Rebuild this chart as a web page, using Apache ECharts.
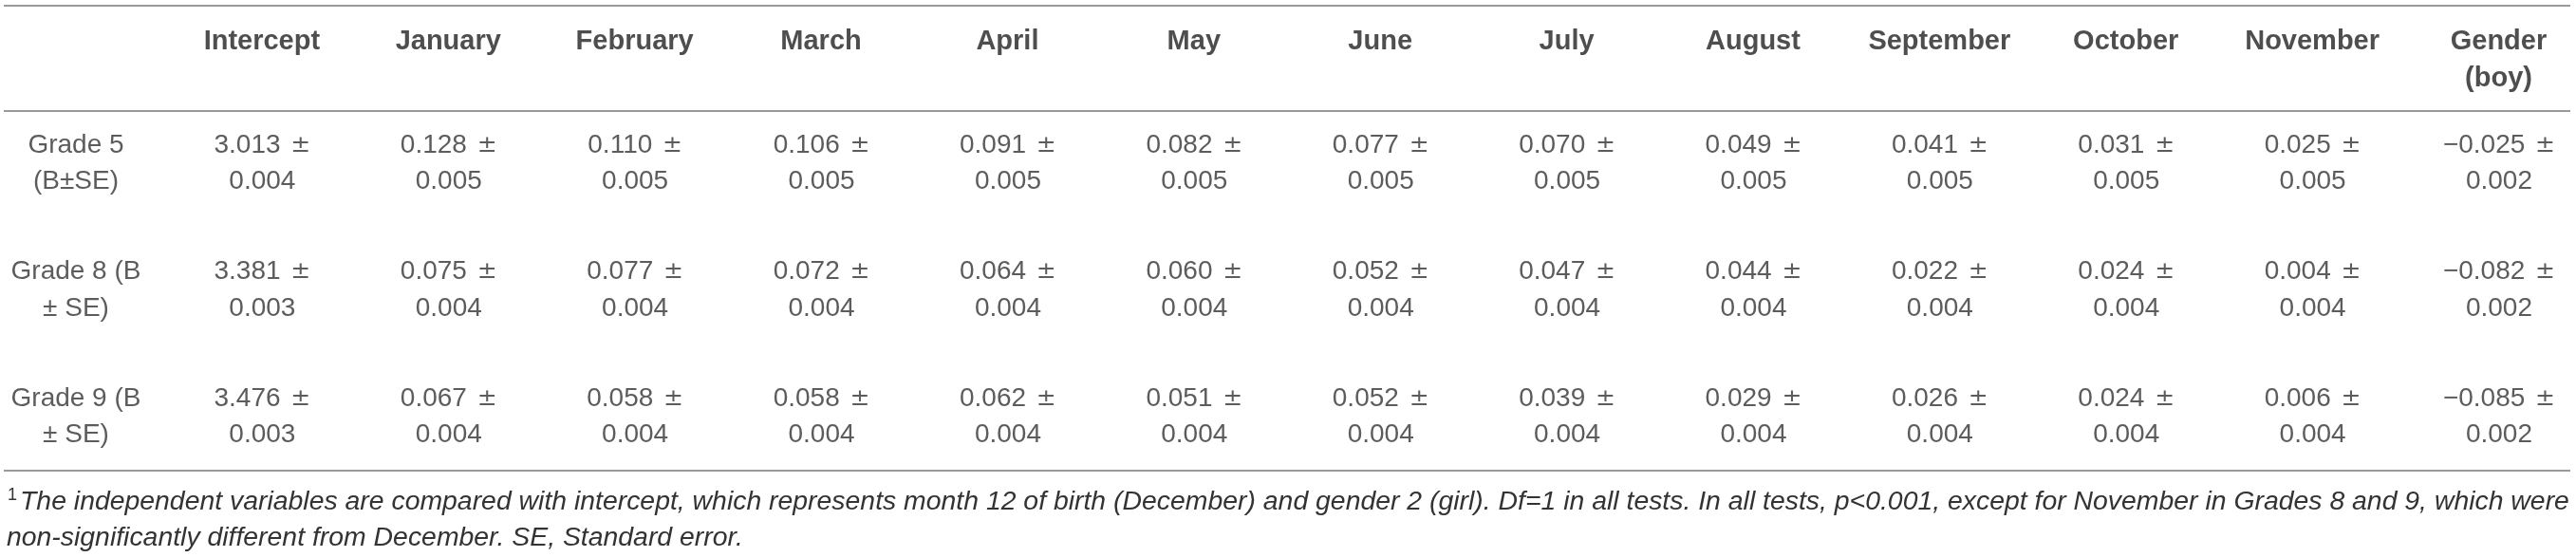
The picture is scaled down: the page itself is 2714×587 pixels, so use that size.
<!DOCTYPE html>
<html>
<head>
<meta charset="utf-8">
<script src="https://cdn.jsdelivr.net/npm/echarts@6/dist/echarts.min.js"></script>
<style>
html,body{margin:0;padding:0;background:#fff;}
#c{width:2714px;height:587px;}
</style>
</head>
<body>
<div id="c"></div>
<script>
// ---- data ----
const columns = ['Intercept','January','February','March','April','May','June','July','August','September','October','November','Gender\n(boy)'];
const rowLabels = ['Grade 5\n(B±SE)','Grade 8 (B\n± SE)','Grade 9 (B\n± SE)'];
const grade5B  = [3.013,0.128,0.110,0.106,0.091,0.082,0.077,0.070,0.049,0.041,0.031,0.025,-0.025];
const grade5SE = [0.004,0.005,0.005,0.005,0.005,0.005,0.005,0.005,0.005,0.005,0.005,0.005,0.002];
const grade8B  = [3.381,0.075,0.077,0.072,0.064,0.060,0.052,0.047,0.044,0.022,0.024,0.004,-0.082];
const grade8SE = [0.003,0.004,0.004,0.004,0.004,0.004,0.004,0.004,0.004,0.004,0.004,0.004,0.002];
const grade9B  = [3.476,0.067,0.058,0.058,0.062,0.051,0.052,0.039,0.029,0.026,0.024,0.006,-0.085];
const grade9SE = [0.003,0.004,0.004,0.004,0.004,0.004,0.004,0.004,0.004,0.004,0.004,0.004,0.002];
const footLine1 = 'The independent variables are compared with intercept, which represents month 12 of birth (December) and gender 2 (girl). Df=1 in all tests. In all tests, p<0.001, except for November in Grades 8 and 9, which were';
const footLine2 = 'non-significantly different from December. SE, Standard error.';

// ---- build ----
const fmt = v => v.toFixed(3).replace('-', '\u2212');
const gradesB = [grade5B, grade8B, grade9B];
const gradesSE = [grade5SE, grade8SE, grade9SE];

const headerData = columns.map((c, i) => ({ value: [i + 1, 0], txt: c }));
const rowLabelData = rowLabels.map((r, j) => ({ value: [0, j + 1], txt: r }));
const cellData = [];
gradesB.forEach((arr, j) => {
  arr.forEach((b, i) => {
    cellData.push({
      value: [i + 1, j + 1],
      txt: '{n|' + fmt(b) + ' }{pm|\u00b1}\n{n|' + fmt(gradesSE[j][i]) + '}'
    });
  });
});

const FONT = '"Liberation Sans", Arial, Helvetica, sans-serif';
const TXT = '#333333';
const hidden = { show: false };
const baseSeries = {
  type: 'scatter',
  symbolSize: 1,
  itemStyle: { color: 'rgba(0,0,0,0)' },
  silent: true
};

const chart = echarts.init(document.getElementById('c'), null, { renderer: 'canvas' });
chart.setOption({
  animation: false,
  backgroundColor: '#ffffff',
  title: {
    left: 7,
    top: 510,
    padding: 0,
    text: '{sup|1}{it|' + footLine1 + '}\n{it|' + footLine2 + '}',
    textStyle: {
      fontFamily: FONT,
      fontSize: 28,
      lineHeight: 38,
      color: TXT,
      fontWeight: 'normal',
      rich: {
        sup: { fontFamily: FONT, fontSize: 18, lineHeight: 38, verticalAlign: 'top', color: TXT, padding: [3, 3, 0, 1] },
        it: { fontFamily: FONT, fontSize: 28.4, lineHeight: 38, fontStyle: 'italic', color: TXT }
      }
    }
  },
  grid: { left: 4, right: 6, top: 0, bottom: 0, containLabel: false },
  xAxis: {
    type: 'value', min: -0.387, max: 13.382,
    axisLine: hidden, axisTick: hidden, axisLabel: hidden, splitLine: hidden
  },
  yAxis: {
    type: 'value', inverse: true, min: -0.292, max: 4.105,
    axisLine: hidden, axisTick: hidden, axisLabel: hidden, splitLine: hidden
  },
  series: [
    Object.assign({}, baseSeries, {
      name: 'header',
      data: headerData,
      label: {
        show: true,
        position: [0, -14],
        align: 'center',
        verticalAlign: 'top',
        formatter: p => p.data.txt,
        fontFamily: FONT,
        fontSize: 29,
        lineHeight: 39,
        fontWeight: 'bold',
        color: '#222222'
      },
      markLine: {
        silent: true,
        symbol: ['none', 'none'],
        label: { show: false },
        lineStyle: { color: '#999999', width: 2, type: 'solid' },
        data: [{ yAxis: -0.247 }, { yAxis: 0.577 }, { yAxis: 3.416 }]
      }
    }),
    Object.assign({}, baseSeries, {
      name: 'rows',
      data: rowLabelData,
      label: {
        show: true,
        position: 'inside',
        align: 'center',
        verticalAlign: 'middle',
        formatter: p => p.data.txt,
        fontFamily: FONT,
        fontSize: 28,
        lineHeight: 38.5,
        color: TXT
      }
    }),
    Object.assign({}, baseSeries, {
      name: 'cells',
      data: cellData,
      label: {
        show: true,
        position: 'inside',
        align: 'center',
        verticalAlign: 'middle',
        formatter: p => p.data.txt,
        fontFamily: FONT,
        fontSize: 28,
        lineHeight: 38.5,
        color: TXT,
        rich: {
          n: { fontFamily: FONT, fontSize: 28, lineHeight: 38.5, color: TXT },
          pm: { fontFamily: '"DejaVu Sans", sans-serif', fontSize: 25, lineHeight: 38.5, color: TXT, padding: [0, 0, 0, 3] }
        }
      }
    })
  ]
});
</script>
</body>
</html>
